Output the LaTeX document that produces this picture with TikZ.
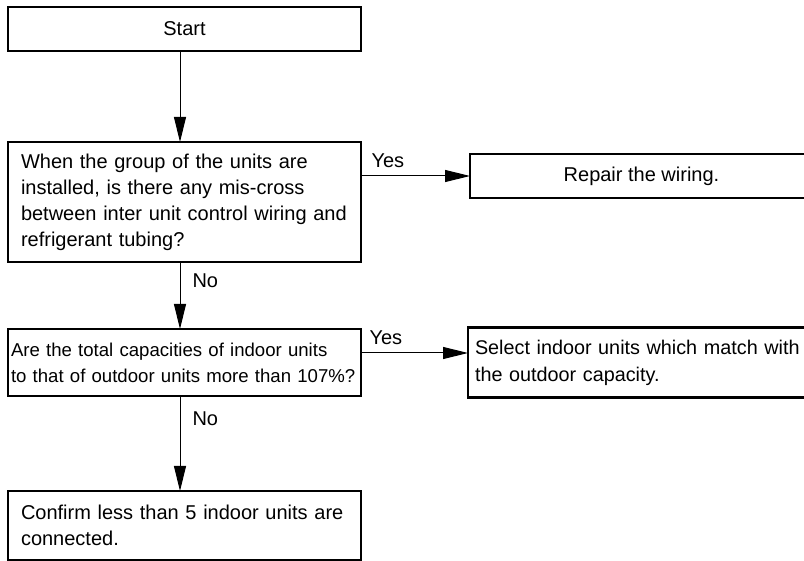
\documentclass[tikz,border=0pt]{standalone}
\usepackage{fontspec}
\setmainfont{Liberation Sans}
\usetikzlibrary{arrows.meta, positioning}

\begin{document}
\begin{tikzpicture}[
  x=0.5pt, y=-0.5pt,
  font=\fontsize{10}{13}\selectfont,
  box/.style={draw, line width=1.2pt, outer sep=0pt, align=center,
              minimum width=176.5pt, minimum height=22pt},
  q/.style={draw, line width=1.2pt, outer sep=0pt, align=left,
            text width=163.5pt, inner xsep=6.5pt, inner ysep=0pt},
  lbl/.style={inner sep=0pt},
  a/.style={-{Triangle[length=12.5pt, width=6pt]}, line width=0.5pt}
]
\useasboundingbox (0,0) rectangle (804,561);
\clip (0,0) rectangle (804,561);

% ---- left column: top -> bottom ----
\node[box, anchor=north west] (start) at (8,7) {Start};
\node[q, minimum height=60pt, below=45.5pt of start] (wiring)
  {When the group of the units are\\installed, is there any mis-cross\\between inter unit control wiring and\\refrigerant tubing?};
\node[q, minimum height=33.5pt, inner xsep=1.5pt, text width=173.5pt,
      font=\fontsize{9.3}{13}\selectfont, below=33.5pt of wiring] (capa)
  {Are the total capacities of indoor units\\to that of outdoor units more than 107\%?};
\node[q, minimum height=34.5pt, below=47.5pt of capa] (confirm)
  {Confirm less than 5 indoor units are\\connected.};

% ---- right column: remedies ----
\node[box, minimum width=171.5pt, right=54.5pt of wiring, yshift=13pt] (repair)
  {Repair the wiring.};
\node[q, minimum height=35pt, inner xsep=3.5pt, text width=172pt,
      font=\fontsize{9.9}{13.5}\selectfont, right=53.5pt of capa] (select)
  {Select indoor units which match with\\the outdoor capacity.};

% ---- main flow ----
\draw[a] ([xshift=-2.25pt]start.south) -- ([xshift=-2.25pt]wiring.north);
\draw[a] ([xshift=-2.25pt]wiring.south) -- ([xshift=-2.25pt]capa.north)
  node[lbl, pos=0, below right=5.5pt and 6pt] {No};
\draw[a] ([xshift=-2.25pt]capa.south) -- ([xshift=-2.25pt]confirm.north)
  node[lbl, pos=0, below right=7.5pt and 6pt] {No};

% ---- yes branches ----
\draw[a] (wiring.east |- repair.west) -- (repair.west)
  node[lbl, pos=0, above right=4pt and 5pt] {Yes};
\draw[a] ([yshift=4.75pt]capa.east) -- ([yshift=4.75pt]capa.east -| select.west)
  node[lbl, pos=0, above right=4pt and 4pt] {Yes};

\end{tikzpicture}
\end{document}
